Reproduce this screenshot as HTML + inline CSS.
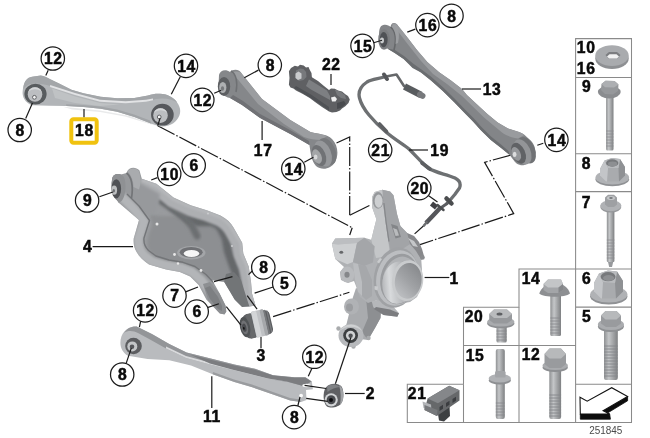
<!DOCTYPE html>
<html lang="en"><head><meta charset="utf-8"><title>Rear axle support / wheel suspension</title>
<style>
html,body{margin:0;padding:0;background:#fff;}
body{width:650px;height:438px;overflow:hidden;font-family:"Liberation Sans",sans-serif;}
svg{display:block}
.n{font-family:"Liberation Sans",sans-serif;font-weight:bold;font-size:15.7px;fill:#0a0a0a;text-anchor:middle;stroke:#0a0a0a;stroke-width:0.5px;letter-spacing:0.6px}
.c{fill:#fff;stroke:#1c1c1c;stroke-width:1.25}
.l{stroke:#1a1a1a;stroke-width:1.2;fill:none;stroke-linecap:butt}
.d{stroke:#1a1a1a;stroke-width:1.2;fill:none;stroke-dasharray:19 2 1.5 2}
.t{stroke:#8a8a8a;stroke-width:1.05;fill:none}
</style></head><body>
<svg width="650" height="438" viewBox="0 0 650 438">
<rect width="650" height="438" fill="#fff"/>

<defs>
<filter id="soft" x="-5%" y="-5%" width="110%" height="110%"><feGaussianBlur stdDeviation="0.45"/></filter>
<linearGradient id="gShaft" x1="0" x2="1" y1="0" y2="0"><stop offset="0" stop-color="#8f9193"/><stop offset="0.35" stop-color="#c4c6c8"/><stop offset="1" stop-color="#7e8082"/></linearGradient>
<linearGradient id="gCyl" gradientUnits="userSpaceOnUse" x1="382" y1="285" x2="412" y2="278"><stop offset="0" stop-color="#b4b6b9"/><stop offset="0.250" stop-color="#d8dadc"/><stop offset="0.600" stop-color="#b9bbbe"/><stop offset="1" stop-color="#a2a4a7"/></linearGradient>
<linearGradient id="gBore" gradientUnits="userSpaceOnUse" x1="398" y1="294" x2="420" y2="266"><stop offset="0" stop-color="#bcbec1"/><stop offset="0.450" stop-color="#a0a2a5"/><stop offset="1" stop-color="#85878a"/></linearGradient>
<filter id="b1" x="-20%" y="-20%" width="140%" height="140%"><feGaussianBlur stdDeviation="1.5"/></filter><filter id="b05" x="-20%" y="-20%" width="140%" height="140%"><feGaussianBlur stdDeviation="0.8"/></filter>
</defs>

<g id="lines">
<polyline class="d" points="157.7,125.7 352.2,227.7"/>
<polyline class="d" points="336.5,143.0 349.7,137.0 349.7,215.3"/>
<polyline class="d" points="511.2,155.0 484.6,162.3 513.7,213.6 420.0,244.6"/>
<polyline class="d" points="273.1,316.6 349.4,292.3"/>
<polyline class="d" points="424.5,225.0 414.6,233.9"/>
</g>
<!-- 10_arm18.svg -->
<g id="arm18" filter="url(#soft)">
<path d="M63,106.800L100,110.500L130,116L158,126.500L125,116.600L100,112L72,109.500Z" fill="#e9eaeb"/>
<path d="M25.300,81.300C27,78.500 29.500,77 32.100,76.700L40.700,75.600C44,76 47,77.500 49.300,78.700L59.600,83.800L71.500,89.800L83.500,93.300L100.700,96.700L117.100,98.300L134.300,98.100L148,95.600C152,94 156,93.600 160,93.800C164,94 168,95 170.300,96.400C174,98.500 176,100.500 177.100,102.400C179,105 180.300,108 180.200,111C180.300,114 179,117 177.100,119.600C175,122.500 172,124.500 168.500,125.500C165.500,126.500 163,126.700 160,126.400L151.400,123.800L134.300,117L117.100,111.800L100.700,108.700L83.500,107L66.400,106.100L49.300,105.800L32.100,105.300C28.500,104 26,102 24.400,99.300C22.800,96.500 22.300,93.500 22.700,90.700C23,87 23.800,84 25.300,81.300Z" fill="#b2b5b8"/>
<!-- top face -->
<path d="M25.300,81.300C27,78.500 29.500,77 32.100,76.700L40.700,75.600C44,76 47,77.500 49.300,78.700L59.600,83.800L71.500,89.800L83.500,93.300L100.700,96.700L117.100,98.300L134.300,98.100L148,95.600C152,94 156,93.600 160,93.800C164,94 168,95 170.300,96.400C174,98.500 176,100.500 177.100,102.400C172,99 164,97.500 156,99C152,100 149,101 146,101.500L125.700,103L100,101.500L75,94.400L50.100,86C44,84 36,82.500 30,84C27,85 25,87 23.500,89C23.500,86 24,83.500 25.300,81.300Z" fill="#a3a6a9"/>
<path d="M50.100,85L75,93L100,99.700L125.700,101.300L146,99.700L153,98.500L153,100.300L146,101.700L125.700,103.200L100,101.700L75,95L50.100,87Z" fill="#e2e3e5"/>
<path d="M52,88.500L75,96.500L100,103L120,104.500L100,106L75,103L55,98Z" fill="#bfc2c4"/>
<!-- lower darker edge -->
<path d="M66.400,106.100L83.500,107L100.700,108.700L117.100,111.800L134.300,117L151.400,123.800L150,120.500L134,114.500L117,109.500L100,106.600L83,105L66,104.300Z" fill="#a1a4a7"/>
<!-- left bushing -->
<ellipse cx="35.500" cy="94.100" rx="11.100" ry="10.300" fill="#595b5e"/>
<circle cx="35" cy="94.500" r="7.300" fill="#bcbec1"/>
<path d="M28.200,92A7.300,7.300 0 0 1 41.800,92A8,6 0 0 0 28.200,92Z" fill="#d4d6d8"/>
<circle cx="34.400" cy="97.300" r="1.900" fill="#f4f4f4" stroke="#55575a" stroke-width="0.900"/>
<!-- right bushing -->
<ellipse cx="162.400" cy="114.700" rx="11.300" ry="10.900" fill="#56585b"/>
<circle cx="160.500" cy="115.600" r="7.300" fill="#bcbec1"/>
<path d="M153.700,113A7.300,7.300 0 0 1 167.300,113A8,6 0 0 0 153.700,113Z" fill="#d6d8da"/>
<circle cx="159.200" cy="117" r="1.900" fill="#f4f4f4" stroke="#55575a" stroke-width="0.900"/>
</g>

<!-- 11_arm17.svg -->
<g id="arm17" filter="url(#soft)">
<path d="M219,75C220,70 226,69 230,72C233,68.5 240,69 242,74L262,99L290.3,120L310.4,132C318,134 327,134 332,139C338,145 339,155 335,162C331,169 322,171 316,166C311,160 311,154 309.4,145L290.3,134L260.1,118L242,105L230,98C224,97 219,92 218.5,86Z" fill="#85878a"/>
<path d="M232,73C236,70 241,72 242,74L262,99L290.3,120L310.4,132C316,133.5 322,134 327,136L321,140C315,140 309,139 304,137L284,124L258,104L240,82C237,78 234,76 232,73Z" fill="#9b9da0"/>
<path d="M230,98L242,105L260.1,118L290.3,134L309.4,145L309,141L290,130L260,114L243,101L233,95Z" fill="#6f7174"/>
<ellipse cx="224" cy="86.5" rx="6.2" ry="9.5" fill="#5d5f62"/>
<ellipse cx="222.8" cy="87.5" rx="3.6" ry="5.5" fill="#aeb0b2"/>
<ellipse cx="222.5" cy="88.5" rx="1.6" ry="2.2" fill="#77797b"/>
<path d="M231,71C236,74 238,82 236,92" stroke="#6e7073" stroke-width="1.5" fill="none"/>
<ellipse cx="327" cy="151.5" rx="8.5" ry="14" transform="rotate(-22 327 151.5)" fill="#77797c"/>
<ellipse cx="323" cy="153.5" rx="8" ry="13.5" transform="rotate(-22 323 153.5)" fill="#96989b"/>
<ellipse cx="319" cy="155.5" rx="6.5" ry="11" transform="rotate(-22 319 155.5)" fill="#707275"/>
<ellipse cx="317" cy="156.5" rx="4.4" ry="7.5" transform="rotate(-22 317 156.5)" fill="#a4a6a8"/>
<ellipse cx="315.6" cy="157" rx="1.9" ry="2.6" fill="#d8d9da"/>
</g>

<!-- 12_arm13.svg -->
<g id="arm13" filter="url(#soft)">
<path d="M379.100,33.700C379,28 381,25 384.300,24.800C387,24.500 389,25.500 390.500,27C391,24.500 392,23.200 393.900,23.100C396,23 397.500,24.500 398.400,26.300L402.100,30.800L408,38.200L417,50.100L427.300,62L439.200,72.300L451,80.500L462,89L466.900,95L477.100,104.400L487.400,113.900L497.700,122.400L508,128.400L518.300,131.800C522,133 525,135 526.800,137C530,139.500 532.500,142 533.700,144.700C535,147.500 535.600,150.500 535.400,153.300C535,156 533.800,158.500 532,160.100C529.500,162.800 526.500,164.500 523.400,165.300C521,165.500 518.500,164.800 516.600,163.500L514.800,161.800L509.700,155L501.100,148.100L490.800,140L480.600,130L473,121.500L465.100,113.500L454,102L442.800,91L431,80.500L421,72.500L412.500,66.500L403.600,59L394.700,53L387.300,48.600C383.500,47.500 381.300,46.500 381.300,45.600C379.500,42 379,38 379.100,33.700Z" fill="#838588"/>
<!-- top lighter face -->
<path d="M392,24C394,22.800 397.500,24.500 398.400,26.300L402.100,30.800L408,38.200L417,50.100L427.300,62L439.200,72.300L451,80.500L462,89L466.900,95L477.100,104.400L487.400,113.900L497.700,122.400L508,128.400L518.300,131.800C521,132.800 523,133.800 524.500,135L518,138.500C512,137.500 506,135.500 502,132.500L484,117.500L462,96L447,84L433,74L421,61L406,42C402,36.500 397,30 392,24Z" fill="#999b9e"/>
<!-- bottom darker edge -->
<path d="M387.300,48.600L394.700,53L403.600,59L412.500,67.900L421,72.500L431,80.500L442.800,91L454,102L465.100,113.500L473,121.500L480.600,130L490.800,140L501.100,148.100L509.700,155L508.500,151L501,144.500L491,136.500L481,126.500L473.500,118L465.500,110L454.500,98.500L443.300,87.500L431.500,77L421.500,69.500L413,63.500L404,56L395,50Z" fill="#6b6d70"/>
<!-- left eye -->
<ellipse cx="384" cy="39.500" rx="5.800" ry="10.300" fill="#7b7d80"/>
<ellipse cx="383.700" cy="39.700" rx="3.900" ry="7.600" fill="#4f5154"/>
<ellipse cx="382" cy="40.400" rx="2" ry="2.800" fill="#c9cbcd"/>
<path d="M390.500,27C395.500,31 396.500,40 394,50" stroke="#66686b" stroke-width="1.600" fill="none"/>
<path d="M391.500,26.500C393,24 396.500,24.500 397.800,27C399,31 399.500,37 398,43L395.500,44C396.500,37 395.500,30.500 391.500,26.500Z" fill="#9c9ea1"/>
<!-- right eye -->
<ellipse cx="526.500" cy="150.200" rx="8.300" ry="14" transform="rotate(-24 526.500 150.200)" fill="#707275"/>
<ellipse cx="522.500" cy="151.800" rx="8" ry="13.300" transform="rotate(-24 522.500 151.800)" fill="#939598"/>
<ellipse cx="518.500" cy="153.200" rx="6.600" ry="11" transform="rotate(-24 518.500 153.200)" fill="#606265"/>
<ellipse cx="516.200" cy="153.900" rx="4.300" ry="7.200" transform="rotate(-24 516.200 153.900)" fill="#96989b"/>
<ellipse cx="514.600" cy="154.400" rx="1.900" ry="2.600" fill="#dcddde"/>
</g>

<!-- 20_arm4.svg -->
<g id="arm4" filter="url(#soft)">
<!-- outer body -->
<path d="M112,180C112,175.500 116,173 121,174.500L126.500,173C128,167.500 135,166 139.500,170.500L141.800,178.700L156.400,183.800L173.500,197.600L190.700,205.300L207.500,210.500L220.500,215.600C227,219 231,223 233.500,227.600L242.200,242.800L243.300,253.600L248.700,266.600L251,281.800L252,293.400L255.500,305.500L249.400,306.500L242,307L234.500,299.500L224.100,281.700L212.300,280.200L219.700,293.600L225.600,305.500L226.400,311.400L224.500,314.500L219.700,313.600L206.300,299.500L198.700,285L190.100,276.400L179.800,272.100L166.100,269.600L149,264.400C142,260 136,253 134.400,247.300C133.500,244 133.500,241 133.700,238.400L139,220L130.700,213L118.700,202.700L111.900,192.400Z" fill="#999b9e"/>
<clipPath id="a4c"><path d="M112,180C112,175.500 116,173 121,174.500L126.500,173C128,167.500 135,166 139.500,170.500L141.800,178.700L156.400,183.800L173.500,197.600L190.700,205.300L207.500,210.500L220.500,215.600C227,219 231,223 233.500,227.600L242.200,242.800L243.300,253.600L248.700,266.600L251,281.800L252,293.400L255.500,305.500L249.400,306.500L242,307L234.500,299.500L224.100,281.700L212.300,280.200L219.700,293.600L225.600,305.500L226.400,311.400L224.500,314.500L219.700,313.600L206.300,299.500L198.700,285L190.100,276.400L179.800,272.100L166.100,269.600L149,264.400C142,260 136,253 134.400,247.300C133.500,244 133.500,241 133.700,238.400L139,220L130.700,213L118.700,202.700L111.900,192.400Z"/></clipPath>
<g clip-path="url(#a4c)">
<!-- floor -->
<path d="M150,214C160,218 176,214 190,218C204,222 216,224 224,232C230,240 232,256 236,270L240,290L226,289L214,281C204,274 192,268 180,266C168,264 156,260 150,252C144,244 150,232 152,226C153,222 150,218 150,214Z" fill="#8d8f92" filter="url(#b1)"/>
<!-- far wall dark band -->
<path d="M160,199L176,210.200L187.900,218.900L198.800,222.100L211.800,222.100C217,224 219,225.500 220.500,227.600L225.900,238.400L228.100,251.400L233.500,266.600L240,281.800L246,298" fill="none" stroke="#65676a" stroke-width="8.500" stroke-linejoin="round" filter="url(#b1)"/>
<path d="M172,207L184,216L192,226L197,236" fill="none" stroke="#6c6e71" stroke-width="7" stroke-linecap="round" filter="url(#b1)"/>
<!-- top rim light -->
<path d="M140,183L155,189L171,202.500L189,211L206,216.300L218,221C223.500,224 227,227.500 229,231L237,245L238.500,255L244,268L246.300,283L247.300,295L252.500,307" fill="none" stroke="#adafb2" stroke-width="9.500" stroke-linejoin="round" filter="url(#b05)"/>
<path d="M141.800,180L156.400,185.300L173,198.800L190.700,206.800L207.500,212L220,217C226,220.500 230,224 232.300,228.500L241,243.200L242,254L247.500,267L249.700,282L250.700,294L256,306" fill="none" stroke="#b9bbbe" stroke-width="2.500" stroke-linejoin="round" filter="url(#b05)"/>
<!-- upper-left arm face -->
<path d="M124,176L142,184L160,194L156,212L146,216L132,208L120,198Z" fill="#97999c" filter="url(#b1)"/>
<!-- near rim light -->
<path d="M121,196L133.700,208.500L144,221.500L138.500,238.400C138,245 140,251 144,255.500L152,261.500L167,265.500L181,267.800L192,272L201,280L210,292L220,305" fill="none" stroke="#b3b5b8" stroke-width="9" stroke-linejoin="round" filter="url(#b05)"/>
<path d="M127,194L139,206L149.500,220.500L144,238C143.500,243 145,247 148.500,250.500L156,256L169,260L183,262.300L195,266.500L206,274.500L214,283" fill="none" stroke="#737578" stroke-width="1.400" stroke-linejoin="round"/>
<!-- spring seat -->
<ellipse cx="191.300" cy="252.800" rx="14.200" ry="6.800" fill="#a3a5a8"/>
<ellipse cx="191.200" cy="252.200" rx="11.500" ry="5.200" fill="#6f7174"/>
<ellipse cx="191.500" cy="253.500" rx="7.800" ry="3.500" fill="#f6f6f6"/>
<!-- prongs shading -->
<path d="M224.100,281.700L234.500,299.500L242,307L249.400,306.500L246,296L241,280L234,272L226,274Z" fill="#727477"/>
<path d="M203,284L210,282L219.700,293.600L225.600,305.500L226.400,311.400L224.500,314.500L219.700,313.600L208,300Z" fill="#8d8f92"/>
<path d="M205,288L210,286L218,297L222,306L222,311L218,309L210,299Z" fill="#7d7f82"/>
</g>
<!-- left fork -->
<path d="M112,180C112,175.500 116,173 121,174.500C124.500,176 125.500,180 125.500,186C125.500,193 124,199 121,201.500L118.700,202.700L111.900,192.400Z" fill="#8f9194"/>
<ellipse cx="117.700" cy="187.500" rx="6.300" ry="13.600" transform="rotate(-6 117.700 187.500)" fill="#8f9194"/><ellipse cx="116.300" cy="188.800" rx="4.800" ry="9.600" fill="#4f5154"/>
<ellipse cx="114.200" cy="190.200" rx="2.900" ry="4.600" fill="#bdbfc1"/>
<ellipse cx="113.800" cy="190.800" rx="1.200" ry="1.700" fill="#6e7073"/>
<path d="M127.500,171.500C130,167.800 136.500,167.500 139,171.500C141,177 141,184 139,189.500L133.500,187C133.500,181 131.500,175.500 127.500,171.500Z" fill="#a9abae"/>
<path d="M126.500,173C131.500,176.500 133.500,186 131.500,198" stroke="#737578" stroke-width="1.700" fill="none"/>
<!-- small holes -->
<circle cx="157" cy="224" r="1.500" fill="#e8e8e8"/><circle cx="174.500" cy="254.500" r="1.400" fill="#e8e8e8"/><circle cx="201" cy="270.500" r="1.400" fill="#e8e8e8"/><circle cx="178" cy="263.500" r="1.200" fill="#e8e8e8"/>
<circle cx="208" cy="213.500" r="1.100" fill="#c9cbcd"/><circle cx="232" cy="246" r="1.100" fill="#c9cbcd"/>
</g>

<!-- 21_bush3.svg -->
<g id="bush3" filter="url(#soft)">
<g transform="rotate(-13 256 324)">
<rect x="243.500" y="312.500" width="28" height="24.500" rx="5" fill="#5d5f62"/><rect x="248" y="312.200" width="5" height="25" fill="#66686b"/>
<rect x="253.500" y="311" width="12.500" height="26.500" rx="1.500" fill="#bfc1c4"/>
<rect x="254" y="311" width="5" height="26.500" rx="1.500" fill="#d3d5d7"/>
<rect x="262.500" y="311" width="3.500" height="26.500" rx="1" fill="#a5a7aa"/>
<rect x="266" y="312.200" width="1.800" height="24.500" fill="#77797c"/>
<rect x="269" y="313.500" width="1.200" height="22" fill="#7b7d80"/>
<ellipse cx="244.600" cy="324.500" rx="5" ry="10.300" fill="#505255"/>
<ellipse cx="244.200" cy="324.700" rx="3.300" ry="7" fill="#6f7174"/>
<ellipse cx="243.800" cy="325" rx="2" ry="4.200" fill="#4a4c4f"/>
<ellipse cx="243.200" cy="325.500" rx="0.900" ry="1.400" fill="#151618"/>
</g>
</g>

<!-- 22_arm11.svg -->
<g id="arm11" filter="url(#soft)">
<path d="M120.400,343C120.400,333 127,326 136.700,326.500L151.900,334.100L169.300,343.900L186.600,352.600L212.700,359.100L234.400,364.500L255,368.800L273.100,375.200L294.600,377.300L305.400,377.300L311.800,381.600L312.900,389.200L306,390L306.500,399.900L301.100,402.100L290.300,400.600L273.100,394.500L251.500,387L234.400,381.900L212.700,374.300L191,365.600L169.300,360.200L147.600,359.100L128,355.800C123,353 120.400,348 120.400,343Z" fill="#b9bbbe"/>
<path d="M136.700,326.500L151.900,334.100L169.300,343.900L186.600,352.600L212.700,359.100L234.400,364.500L255,368.800L273.100,375.200L294.600,377.300L305.400,377.300L311.800,381.600L303,386L288,382L268,379L250,374.500L232,370L210,364.500L186,358L166,348.500L150,339.500L138,333C134,331 128,330 124,333C127,328 132,326 136.700,326.500Z" fill="#939598"/>
<path d="M166,346.500L186,356L210,362.500L232,368L250,372.500L268,377L288,380L287.500,381.500L268,379L250,374.500L232,370L210,364.500L186,358L166,348.500Z" fill="#d9dadc"/>
<path d="M190,354.500L212.700,360.200L234.400,365.500L255,369.800L273.100,375.600L294.600,377.800L305.400,377.800L311,381.600L303.500,386L288,381.700L268,378.500L250,374L232,369.500L210,363.500Z" fill="#7b7d80"/>
<path d="M212.700,374.300L234.400,381.900L251.500,387L273.100,394.500L290.300,400.600L301.100,402.100L300,399.500L290,398L273,392L252,384.500L234,379.400L213,372Z" fill="#9a9c9f"/>
<ellipse cx="306.500" cy="385.500" rx="4.200" ry="1.700" fill="#fafafa"/>
<circle cx="301.100" cy="395.600" r="1.900" fill="#fafafa"/>
<circle cx="133.500" cy="346" r="8.300" fill="#5b5d60"/>
<circle cx="132.300" cy="346.400" r="5" fill="#c4c6c8"/>
<circle cx="132" cy="346.700" r="2.300" fill="#55575a"/>
</g>

<!-- 23_bush2.svg -->
<g id="bush2" filter="url(#soft)">
<path d="M325.500,388C329,383 338,382.500 341.500,386.500C344,390 344,399 341.500,403C339,407 331,409 327,406.500C323,403 322.500,393 325.500,388Z" fill="#5f6164"/>
<path d="M339,385C342,387 343.800,391 343.500,396C343.300,400 342,403 340,405C341,399 341,391 339,385Z" fill="#a1a3a6"/>
<path d="M327,386.500C331,383.500 337,384 340,387C336,387.500 331,389 327.500,392Z" fill="#808285"/>
<circle cx="331.200" cy="399.800" r="6.600" fill="#d2d4d6"/>
<circle cx="331.200" cy="399.800" r="4.500" fill="#4a4c4f"/>
<circle cx="331" cy="400" r="2" fill="#111"/>
</g>

<!-- 30_knuckle.svg -->
<g id="knuckle" filter="url(#soft)">
<!-- lower neck -->
<path d="M356,288L372,296L381,308L380.500,318L375,328L368,340L352,338L346,326L349,314L352,300Z" fill="#a9abae"/>
<path d="M366,298L381,308L380.500,318L375,328L368,340L362,332L368,318Z" fill="#8d8f92"/>
<!-- left lower boss -->
<ellipse cx="351.500" cy="306.500" rx="7.500" ry="8" fill="#b0b2b5"/>
<ellipse cx="349.500" cy="307.500" rx="3.500" ry="4" fill="#9b9da0"/>
<!-- lower eye -->
<circle cx="338.500" cy="328.500" r="2.200" fill="#a9abad"/><circle cx="368.500" cy="338" r="2.200" fill="#a9abad"/><circle cx="353.500" cy="346.500" r="2.200" fill="#a9abad"/>
<ellipse cx="351" cy="335.500" rx="12.500" ry="11.500" fill="#b7b9bc"/>
<path d="M340,331A12,11 0 0 1 362,331A13,9 0 0 0 340,331Z" fill="#cfd1d3"/>
<circle cx="350.600" cy="335.500" r="7.400" fill="#3d3f42"/>
<circle cx="350.600" cy="335.500" r="4.700" fill="#d0d2d4"/>
<circle cx="350.600" cy="335.800" r="2.200" fill="#4d4f52"/>
<!-- right lower bracket -->
<path d="M371.500,300.400L383.500,299.600L392,305L399,313.300L397.300,316.700L383.500,315L373.300,307.300Z" fill="#b5b7ba"/>
<path d="M376,307L390,309.500L399,313.300L397.300,316.700L383.500,315L374,309Z" fill="#7b7d80"/>
<!-- main body silhouette -->
<path d="M372.100,197L374.700,191.900L382.400,189.800L390.100,191.500L393.500,195.300L397,214.100L400.400,226.100L407.200,233L414.100,241.500L418,247L421,256L422,270L421,288L417,297L410,302L398,304L386,302L376,300L368,303L360,297L356,286L354,281L348,283L341,280L340,272L344,267L335.300,259.100L331.900,243.700L335.300,238.600L364.400,237.700L371.300,239.800L373.800,229.600L376.400,219.300L372.100,207.300Z" fill="#afb1b4"/>
<!-- post faces -->
<path d="M372.100,197L374.700,191.900L382.400,189.800L384,197L383.300,205.600L385.500,222L388.400,241.500L390,256L376,258L371.300,239.800L373.800,229.600L376.400,219.300L372.100,207.300Z" fill="#c4c6c8"/>
<path d="M382.400,189.800L390.100,191.500L393.500,195.300L397,214.100L400.400,226.100L407.200,233L414.100,241.500L404,248L392,256L388.400,241.500L385.500,222L383.300,205.600Z" fill="#a2a4a7"/>
<path d="M383.300,203L385.500,222L388.400,241.500L389.600,241.500L386.700,222L384.500,203Z" fill="#85878a"/>
<ellipse cx="378.100" cy="200.400" rx="5.300" ry="8.300" fill="#96989b"/>
<ellipse cx="378.600" cy="201.200" rx="3.900" ry="6.600" fill="#cdcfd1"/>
<path d="M391,224L397.500,226L401,237L395.500,238.500Z" fill="#838588"/>
<path d="M393,228L397,229.500L399,235.500L395.500,236Z" fill="#b9bbbd"/>
<!-- left block -->
<path d="M335.300,238.600L364.400,237.700L357,243L338,244.500L331.900,243.700Z" fill="#bcbec1"/>
<path d="M331.900,243.700L338,244.500L357,243L353,262L347.300,264.300L335.300,259.100Z" fill="#cdcfd1"/>
<path d="M357,243L364.400,237.700L374.700,246.300L373,262.600L364,266L353,262Z" fill="#a4a6a9"/>
<ellipse cx="341.300" cy="252.300" rx="1.900" ry="1.500" fill="#66686b"/>
<!-- lug -->
<ellipse cx="347.300" cy="274.600" rx="7" ry="8" fill="#b9bbbe"/>
<ellipse cx="347" cy="274.800" rx="2.600" ry="3" fill="#85878a"/>
<!-- column -->
<path d="M355,264L366,266L372,280L372,296L366,300L358,292Z" fill="#a6a8ab"/>
<path d="M353,263L358,264L362,282L362,296L358,292L355,280Z" fill="#bbbdc0"/>
<!-- sensor boss top right -->
<path d="M407.200,233L414.100,236L419,242L422,249L424,256L421.500,260L416,251L410,244Z" fill="#88898c"/>
<circle cx="422.500" cy="257.500" r="2.300" fill="#8a8c8f"/>
<path d="M408,238L414,241L418,247L413,246Z" fill="#c5c7c9"/>
<!-- hub -->
<ellipse cx="396" cy="277.500" rx="22" ry="30.500" transform="rotate(11 395.500 277.500)" fill="#a0a2a5"/>
<ellipse cx="397.500" cy="278" rx="21" ry="28" transform="rotate(13 397.500 278)" fill="#bcbec1"/>
<ellipse cx="399.500" cy="279" rx="19" ry="25.500" transform="rotate(12 399.500 279)" fill="#9a9c9f"/>
<ellipse cx="400.500" cy="280" rx="17.600" ry="23.600" transform="rotate(12 400.500 280)" fill="#b1b3b6"/>
<path d="M398.500,261.500L409,260.300L406.500,301L396,303.500Z" fill="url(#gCyl)"/>
<ellipse cx="398" cy="282.600" rx="15.600" ry="21.200" transform="rotate(9 398 282.600)" fill="url(#gCyl)"/>
<ellipse cx="407.600" cy="280.600" rx="15.600" ry="20.500" transform="rotate(8 407.600 280.600)" fill="#c9cbcd"/>
<ellipse cx="408.200" cy="280.800" rx="13.300" ry="17.900" transform="rotate(8 408.200 280.800)" fill="url(#gBore)"/>
<!-- small ribs on hub left -->
<path d="M377,262l3,-4l2,1l-3,4.500zM374.500,286l3.500,0.500l-0.500,4l-3,-1z" fill="#c9cbcd"/>
</g>

<!-- 31_cable.svg -->
<g id="cable" filter="url(#soft)" fill="none" stroke-linecap="round" stroke-linejoin="round">
<path d="M404,86L396.500,74.500L386,76.500" stroke="#66686b" stroke-width="2.600"/>
<path d="M386,76.500C378,79 372,79 367,82C361,86 358,92 359.500,98C361,104 364,109 369,115C374,121 380,127 386,132C394,139 403,144 409,149C416,156 422,163 428,168C436,173 446,174 455,178C460,180.500 461,184 459.500,188L454.800,194.500L449.300,201L447,203.500" stroke="#6d6f72" stroke-width="3.300"/>
<path d="M404.500,86.500L421,95" stroke="#595b5e" stroke-width="6.500" stroke-linecap="butt"/>
<path d="M420,94.500L422.500,95.800" stroke="#77797c" stroke-width="6"/>
<path d="M384,74.500L387,79" stroke="#55575a" stroke-width="4"/>
<path d="M379.500,124L386.500,131.500" stroke="#5d5f62" stroke-width="3.600"/>
<path d="M422,163L430,169" stroke="#5d5f62" stroke-width="3.600"/>
<path d="M446.500,198.500L451.500,203.500" stroke="#4b4d50" stroke-width="4.500"/>
<!-- sensor 20 -->
<path d="M447,203.500L440,208.500" stroke="#5b5d60" stroke-width="2.800"/>
<path d="M440.500,207.500L435,213.500L426,223" stroke="#55575a" stroke-width="4.400" stroke-linecap="butt"/>
<path d="M431.500,203.500L436.500,207.500" stroke="#3f4144" stroke-width="5" stroke-linecap="butt"/>
<path d="M437.500,205L443.500,210" stroke="#4b4d50" stroke-width="2.500"/>
<path d="M426.500,222.500L424,225.500" stroke="#6c6e71" stroke-width="2.600"/>
</g>

<!-- 32_clip22.svg -->
<g id="clip22" filter="url(#soft)">
<path d="M288.900,71.300L291,68L294.800,65.700L298,66.500L300,64.800L303.700,65.400L306,67.500L308.500,67L309.700,69.800L311.500,73L311.900,77.300L318,81L324,86L329,89.900L331,88.500L334.900,88.800L338,90.500L342,91.500L345.300,94.300L348,96L349.800,99.500L348.500,103L345.300,106.200L342,108.500L340,110.500L336.400,112.100L332,112.500L329,111.400L322,107L315,102L309.700,98L302,93.500L296,90.500L293.400,88.400L290.500,87.500L288.900,84.700L289.500,78Z" fill="#5f6164"/>
<path d="M296,70.500L300,68.500L303.500,69L306,72L306.500,77L303.500,80L299,81L295.500,78Z" fill="#77797c"/>
<path d="M295.500,73.500L298.500,71.500L301.500,73.500L301.500,78.500L298,80L295.500,78Z" fill="#c9cbcd"/>
<path d="M309,79.500L327,90.500L330,96L330,100L311,89.500L306,86Z" fill="#7d7f82"/>
<path d="M294,88L310,97.500L329,110.500L329,107L311,94.500L296,86Z" fill="#4f5154"/>
<path d="M331,97.500L334.900,96.500L337,99L335.500,101.500L332,101.500Z" fill="#f0f0f0"/>
<path d="M334.900,89.500L341,92L345,95L346,99L341,98L337,95Z" fill="#77797c"/>
<path d="M337,103L344,101L346,104L341,108L337,109Z" fill="#4a4c4f"/>
</g>

<g id="leaders">
<line class="l" x1="48.2" y1="70.2" x2="45.8" y2="75.5"/>
<line class="l" x1="32.5" y1="103.0" x2="25.7" y2="118.5"/>
<line class="l" x1="180.4" y1="76.6" x2="171.3" y2="94.3"/>
<line class="l" x1="84.0" y1="109.0" x2="84.0" y2="117.5"/>
<line class="l" x1="258.4" y1="70.1" x2="244.3" y2="77.8"/>
<line class="l" x1="214.2" y1="93.2" x2="221.2" y2="90.2"/>
<line class="l" x1="262.1" y1="121.0" x2="262.1" y2="140.0"/>
<line class="l" x1="304.3" y1="162.3" x2="313.4" y2="157.3"/>
<line class="l" x1="331.0" y1="74.0" x2="331.0" y2="85.0"/>
<line class="l" x1="372.0" y1="43.2" x2="382.0" y2="40.2"/>
<line class="l" x1="415.3" y1="29.1" x2="407.3" y2="32.1"/>
<line class="l" x1="462.0" y1="89.0" x2="481.0" y2="89.0"/>
<line class="l" x1="543.3" y1="143.2" x2="537.3" y2="145.2"/>
<line class="l" x1="409.0" y1="150.0" x2="428.0" y2="150.0"/>
<line class="l" x1="428.3" y1="195.6" x2="437.5" y2="202.0"/>
<line class="l" x1="157.4" y1="177.6" x2="151.2" y2="180.0"/>
<line class="l" x1="99.4" y1="196.8" x2="113.0" y2="192.0"/>
<line class="l" x1="92.6" y1="246.6" x2="133.0" y2="246.6"/>
<line class="l" x1="252.2" y1="271.0" x2="248.5" y2="274.7"/>
<line class="l" x1="273.1" y1="287.0" x2="254.6" y2="293.1"/>
<line class="l" x1="185.6" y1="291.9" x2="198.0" y2="287.0"/>
<line class="l" x1="206.6" y1="307.9" x2="218.9" y2="303.7"/>
<line class="l" x1="261.0" y1="337.0" x2="261.0" y2="348.0"/>
<line class="l" x1="140.7" y1="321.0" x2="139.4" y2="327.1"/>
<line class="l" x1="131.3" y1="348.1" x2="125.9" y2="364.1"/>
<line class="l" x1="211.8" y1="376.3" x2="211.8" y2="408.0"/>
<line class="l" x1="312.3" y1="367.5" x2="308.3" y2="376.2"/>
<line class="l" x1="297.8" y1="406.0" x2="300.0" y2="397.0"/>
<line class="l" x1="345.0" y1="393.5" x2="364.7" y2="393.5"/>
<line class="l" x1="424.6" y1="277.5" x2="449.3" y2="277.5"/>
<line class="l" x1="160.1" y1="118.1" x2="157.7" y2="125.7"/>
<line class="l" x1="214.0" y1="281.6" x2="232.5" y2="276.6"/>
<line class="l" x1="226.3" y1="306.7" x2="241.0" y2="325.2"/>
<line class="l" x1="247.2" y1="295.6" x2="257.1" y2="309.2"/>
<line class="l" x1="304.6" y1="385.4" x2="326.2" y2="388.5"/>
<line class="l" x1="306.2" y1="398.3" x2="327.7" y2="401.4"/>
<line class="l" x1="335.4" y1="383.8" x2="350.8" y2="337.7"/>
<line class="l" x1="349.7" y1="215.3" x2="369.4" y2="205.5"/>
<line class="l" x1="352.2" y1="227.7" x2="349.7" y2="235.0"/>
</g>
<g id="table">
<path class="t" d="M575.600,38.600H631.500V422.400H407.300V384.300H463.500V307.300H519V269H575.600Z"/>
<path class="t" d="M575.600,77.500H631.500M575.600,153.800H631.500M575.600,191.600H631.500M575.600,269H631.500M575.600,307.100H631.500M575.600,384.300H631.500M575.600,269V422.400M519,307.300V422.400M463.500,384.300V422.400M463.500,345.400H575.600"/>
<g filter="url(#soft)">
<!-- washer 10/16 -->
<ellipse cx="612" cy="58.600" rx="16.700" ry="10.300" fill="#8e9093"/>
<ellipse cx="612" cy="55.600" rx="16.700" ry="10.300" fill="#a9abae"/>
<path d="M605.500,55L609,52L617,52L620.500,55L617.500,58.500L608.500,58.500Z" fill="#7b7d80"/>
<path d="M607,56.500L609.500,54.200L616.500,54.200L619,56.500L617,58.500L609,58.500Z" fill="#f2f2f2"/>
<!-- bolt 9 -->
<rect x="606.100" y="95" width="7.400" height="55.500" rx="1.500" fill="url(#gShaft)"/>
<path d="M606.100,131H613.500M606.100,134H613.500M606.100,137H613.500M606.100,140H613.500M606.100,143H613.500M606.100,146H613.500" stroke="#8a8c8f" stroke-width="0.800"/>
<ellipse cx="609.300" cy="92" rx="11.400" ry="6.500" fill="#8a8c8f"/>
<path d="M601.500,84L605.500,80.700L614.500,81L618.500,84.500L618,91L613,94.500L605,94L601,90Z" fill="#96989b"/>
<path d="M601.500,84L605.500,80.700L614.500,81L618.500,84.500L614,87.500L605,87.300Z" fill="#adafb2"/>
<!-- nut 8 -->
<ellipse cx="612.300" cy="179.300" rx="16.800" ry="7" fill="#8f9194"/>
<ellipse cx="612.300" cy="177.500" rx="16.800" ry="7" fill="#b0b2b5"/>
<path d="M600,169L604.500,160.500L612,158L620,159L625,167L625,175.500L619,181.500L606,181.500L600,175.500Z" fill="#a9abae"/>
<path d="M600,169L604.500,160.500L608,168L607,181.500L606,181.500L600,175.500Z" fill="#c3c5c8"/>
<path d="M620,159L625,167L625,175.500L619,181.500L618.500,168Z" fill="#8f9194"/>
<path d="M604.500,160.500L612,158L620,159L618.500,168L608,168Z" fill="#b9bbbe"/>
<ellipse cx="612.200" cy="163" rx="6.200" ry="3.700" fill="#77797c"/>
<ellipse cx="612.600" cy="164" rx="4.600" ry="2.400" fill="#8d8f92"/>
<!-- bolt 7 -->
<rect x="606.800" y="210" width="7.600" height="52" rx="1" fill="url(#gShaft)"/>
<path d="M608,262L613.200,262L612,267L609.200,267Z" fill="#97999c"/>
<path d="M606.800,240H614.400M606.800,243H614.400M606.800,246H614.400M606.800,249H614.400M606.800,252H614.400M606.800,255H614.400M606.800,258H614.400" stroke="#8a8c8f" stroke-width="0.800"/>
<ellipse cx="610.800" cy="207" rx="10.500" ry="5.600" fill="#96989b"/>
<ellipse cx="610.800" cy="205.600" rx="10.500" ry="5.600" fill="#b0b2b5"/>
<path d="M605,197.500L608,194.800L614,194.800L617,197.500L617,204.500L614,207L608,207L605,204.500Z" fill="#9ea0a3"/>
<ellipse cx="611" cy="198" rx="4" ry="2.100" fill="#c4c6c8"/>
<ellipse cx="611" cy="198" rx="1.800" ry="1" fill="#77797c"/>
<!-- nut 6 -->
<ellipse cx="608.800" cy="296.300" rx="18.600" ry="8.300" fill="#8f9194"/>
<ellipse cx="608.800" cy="294.300" rx="18.600" ry="8.300" fill="#b0b2b5"/>
<path d="M594,283L599,273.500L608,270.500L617,271.500L623,281L623,291.500L616,298.500L601,298.500L594,291.500Z" fill="#a9abae"/>
<path d="M594,283L599,273.500L603,282L602,298.500L601,298.500L594,291.500Z" fill="#c3c5c8"/>
<path d="M617,271.500L623,281L623,291.500L616,298.500L615,283Z" fill="#8f9194"/>
<path d="M599,273.500L608,270.500L617,271.500L615,283L603,282Z" fill="#b9bbbe"/>
<ellipse cx="608.100" cy="276.700" rx="7.400" ry="4.600" fill="#77797c"/>
<ellipse cx="608.600" cy="278" rx="5.600" ry="3" fill="#8d8f92"/>
<!-- bolt 5 -->
<rect x="604" y="326" width="13.800" height="54" rx="2" fill="url(#gShaft)"/>
<path d="M604,346H617.800M604,349H617.800M604,352H617.800M604,355H617.800M604,358H617.800M604,361H617.800M604,364H617.800M604,367H617.800M604,370H617.800M604,373H617.800M604,376H617.800" stroke="#85878a" stroke-width="0.900"/>
<ellipse cx="610.900" cy="326.500" rx="13" ry="5.600" fill="#8f9194"/>
<ellipse cx="610.900" cy="324.500" rx="13" ry="5.600" fill="#aaacaf"/>
<path d="M601,315.500L605.500,311L616.500,311L621,315.500L621,323.500L616,327L606,327L601,323.500Z" fill="#999b9e"/>
<path d="M601,315.500L605.500,311L616.500,311L621,315.500L616.500,319.500L605.500,319.500Z" fill="#b7b9bb"/>
<!-- bolt 14 -->
<rect x="550.300" y="293" width="10.700" height="43" rx="1.500" fill="url(#gShaft)"/>
<path d="M550.300,318H561M550.300,321H561M550.300,324H561M550.300,327H561M550.300,330H561M550.300,333H561" stroke="#85878a" stroke-width="0.800"/>
<path d="M539.200,293.500C541,288 547,283 555,283C563,283 568.500,288 570,293.500C565,297.800 544,297.800 539.200,293.500Z" fill="#8d8f92"/>
<path d="M543.500,284L548,279.500L561,279.500L563,284L563,290L558.500,293L548,293L543.500,290Z" fill="#a3a5a8"/>
<path d="M543.500,284L548,279.500L561,279.500L563,284L558.500,287.500L548,287.500Z" fill="#c3c5c7"/>
<path d="M558.500,287.500L563,284L563,290L558.500,293Z" fill="#85878a"/>
<!-- bolt 20 -->
<rect x="496.500" y="325" width="10.200" height="17.500" rx="1.500" fill="url(#gShaft)"/>
<path d="M496.500,331H506.700M496.500,334H506.700M496.500,337H506.700M496.500,340H506.700" stroke="#85878a" stroke-width="0.800"/>
<ellipse cx="500.800" cy="323.500" rx="13.600" ry="4.800" fill="#8d8f92"/>
<ellipse cx="500.800" cy="321.800" rx="13.600" ry="4.800" fill="#a9abae"/>
<path d="M489.200,314L494,309.500L507,309.500L512,314L512,320L507,323.500L494,323.500L489.200,320Z" fill="#97999c"/>
<path d="M489.200,314L494,309.500L507,309.500L512,314L507,318L494,318Z" fill="#b9bbbd"/>
<ellipse cx="499.500" cy="314" rx="3" ry="1.600" fill="#5d5f62"/>
<!-- stud 15 -->
<rect x="495.800" y="349" width="9" height="70" rx="2" fill="url(#gShaft)"/>
<path d="M495.800,403H504.800M495.800,406H504.800M495.800,409H504.800M495.800,412H504.800M495.800,415H504.800" stroke="#85878a" stroke-width="0.800"/>
<ellipse cx="499.800" cy="380.300" rx="11.200" ry="4.300" fill="#8d8f92"/>
<ellipse cx="499.800" cy="378.300" rx="11.200" ry="4.300" fill="#b0b2b5"/>
<rect x="495" y="371" width="10.600" height="6.500" rx="1.500" fill="#a3a5a8"/>
<!-- bolt 12 -->
<rect x="549.300" y="366" width="11.800" height="53" rx="2" fill="url(#gShaft)"/>
<path d="M549.300,395H561.100M549.300,398H561.100M549.300,401H561.100M549.300,404H561.100M549.300,407H561.100M549.300,410H561.100M549.300,413H561.100M549.300,416H561.100" stroke="#85878a" stroke-width="0.900"/>
<ellipse cx="555.200" cy="367.500" rx="12.600" ry="4.600" fill="#8d8f92"/>
<ellipse cx="555.200" cy="365.500" rx="12.600" ry="4.600" fill="#a9abae"/>
<path d="M544.500,354L549.500,348.600L561,348.600L566,354L566,364L561,368L549.500,368L544.500,364Z" fill="#999b9e"/>
<path d="M544.500,354L549.500,348.600L561,348.600L566,354L561,358.500L549.500,358.500Z" fill="#b7b9bb"/>
<!-- connector 21 -->
<path d="M437.900,413.500L449.500,406L450,416L444,421.500L439,420.500Z" fill="#3e4043"/>
<path d="M427.600,398.500L449.200,385.700L459.500,390.300L459.500,400.500L436.900,416L424.500,410Z" fill="#66686b"/>
<path d="M427.600,398.500L449.200,385.700L459.500,390.300L437.900,403.300Z" fill="#85878a"/>
<path d="M422.500,401.500L431,404.500L431.500,411L423.500,408Z" fill="#b3b5b8"/>
<path d="M424.500,405L437.500,410L436.900,416L424.500,410Z" fill="#77797c"/>
<path d="M439.500,407l3.500,-2.200v4l-3.500,2.200zM446,403l3.500,-2.200v4l-3.500,2.200zM452.500,399l3.500,-2.200v4l-3.500,2.200z" fill="#3b3d40"/>
</g>
<!-- arrow -->
<path d="M580.300,414.100L609.700,414.100L610.400,419.200L580.300,419.200ZM627.600,396.500L627.600,400.800L607.500,413L603.100,410.700Z" fill="#0c0c0c" stroke="#0c0c0c" stroke-width="0.800"/>
<path d="M580,397.200L587.200,401.200L611.700,387.700L627.600,396.500L603.100,410.700L609.700,414.100L580.300,414.100Z" fill="#fff" stroke="#111" stroke-width="1.100" stroke-linejoin="miter"/>
</g>

<g id="callouts" opacity="0.999">
<rect x="71.3" y="119.2" width="25.4" height="23.6" fill="#fff" stroke="#f0c20f" stroke-width="4" rx="2.2"/>
<circle class="c" cx="52.8" cy="58.5" r="11.7"/><text class="n" x="53.3" y="64.3">12</text>
<circle class="c" cx="19.7" cy="130.0" r="11.7"/><text class="n" x="20.2" y="135.8">8</text>
<circle class="c" cx="186.0" cy="65.8" r="11.7"/><text class="n" x="186.5" y="71.6">14</text>
<circle class="c" cx="269.8" cy="65.1" r="11.7"/><text class="n" x="270.3" y="70.9">8</text>
<circle class="c" cx="202.3" cy="99.9" r="11.7"/><text class="n" x="202.8" y="105.7">12</text>
<circle class="c" cx="293.3" cy="168.7" r="11.7"/><text class="n" x="293.8" y="174.5">14</text>
<circle class="c" cx="362.5" cy="45.8" r="11.7"/><text class="n" x="363.0" y="51.6">15</text>
<circle class="c" cx="427.4" cy="25.1" r="11.7"/><text class="n" x="427.9" y="30.9">16</text>
<circle class="c" cx="451.5" cy="15.7" r="11.7"/><text class="n" x="452.0" y="21.5">8</text>
<circle class="c" cx="556.4" cy="139.8" r="11.7"/><text class="n" x="556.9" y="145.6">14</text>
<circle class="c" cx="380.2" cy="150.1" r="11.7"/><text class="n" x="380.7" y="155.9">21</text>
<circle class="c" cx="419.3" cy="188.1" r="11.7"/><text class="n" x="419.8" y="193.9">20</text>
<circle class="c" cx="193.7" cy="165.3" r="11.7"/><text class="n" x="194.2" y="171.1">6</text>
<circle class="c" cx="169.2" cy="173.9" r="11.7"/><text class="n" x="169.7" y="179.7">10</text>
<circle class="c" cx="87.1" cy="200.5" r="11.7"/><text class="n" x="87.6" y="206.3">9</text>
<circle class="c" cx="263.3" cy="267.3" r="11.7"/><text class="n" x="263.8" y="273.1">8</text>
<circle class="c" cx="284.2" cy="283.3" r="11.7"/><text class="n" x="284.7" y="289.1">5</text>
<circle class="c" cx="174.5" cy="295.6" r="11.7"/><text class="n" x="175.0" y="301.4">7</text>
<circle class="c" cx="196.7" cy="311.6" r="11.7"/><text class="n" x="197.2" y="317.4">6</text>
<circle class="c" cx="145.1" cy="310.4" r="11.7"/><text class="n" x="145.6" y="316.2">12</text>
<circle class="c" cx="122.2" cy="374.5" r="11.7"/><text class="n" x="122.7" y="380.3">8</text>
<circle class="c" cx="314.3" cy="356.8" r="11.7"/><text class="n" x="314.8" y="362.6">12</text>
<circle class="c" cx="294.1" cy="417.1" r="11.7"/><text class="n" x="294.6" y="422.9">8</text>
<text class="n" x="84.4" y="135.8">18</text>
<text class="n" x="263.2" y="155.9">17</text>
<text class="n" x="331.3" y="70.4">22</text>
<text class="n" x="492.0" y="95.1">13</text>
<text class="n" x="439.7" y="156.1">19</text>
<text class="n" x="87.7" y="252.3">4</text>
<text class="n" x="261.2" y="360.5">3</text>
<text class="n" x="211.9" y="422.1">11</text>
<text class="n" x="370.5" y="399.0">2</text>
<text class="n" x="454.2" y="283.5">1</text>
<text class="n" x="586.2" y="52.8">10</text>
<text class="n" x="586.2" y="73.9">16</text>
<text class="n" x="586.6" y="92.3">9</text>
<text class="n" x="586.5" y="169.3">8</text>
<text class="n" x="586.5" y="207.9">7</text>
<text class="n" x="586.6" y="283.7">6</text>
<text class="n" x="586.6" y="322.3">5</text>
<text class="n" x="531.1" y="283.9">14</text>
<text class="n" x="474.0" y="322.4">20</text>
<text class="n" x="475.0" y="360.6">15</text>
<text class="n" x="531.1" y="360.3">12</text>
<text class="n" x="417.2" y="399.0">21</text>
<text x="589.2" y="434.3" font-family="Liberation Sans, sans-serif" font-size="10.6" fill="#4a4a4a" textLength="33.2" lengthAdjust="spacingAndGlyphs">251845</text>
</g>
</svg></body></html>
